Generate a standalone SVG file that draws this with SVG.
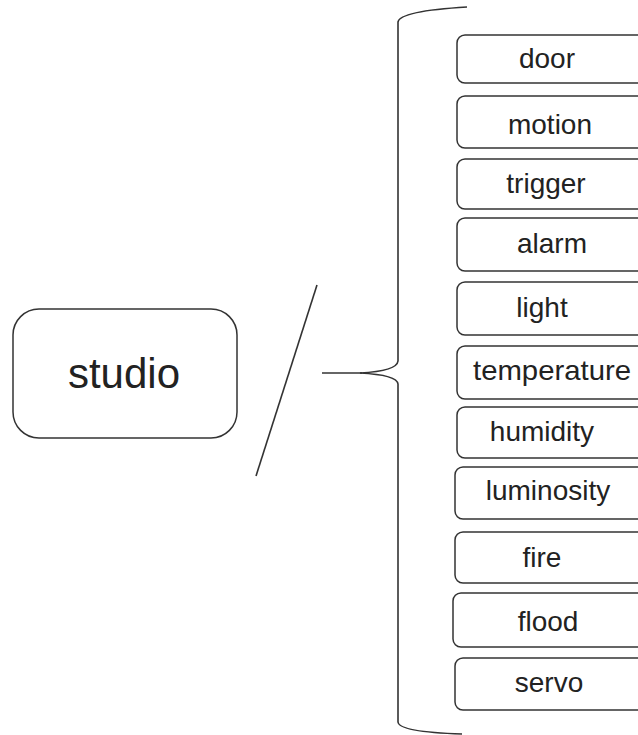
<svg xmlns="http://www.w3.org/2000/svg" width="638" height="735" viewBox="0 0 638 735">
<style>
.box{fill:#fff;stroke:#333;stroke-width:1.5}
.lbl{font-family:"Liberation Sans",Arial,sans-serif;font-size:28px;fill:#222;text-anchor:middle}
.ln{fill:none;stroke:#333;stroke-width:1.6}
</style>
<rect width="638" height="735" fill="#fff"/>
<g id="connectors">
<path class="ln" d="M 317 285 L 256 476"/>
<path class="ln" d="M 322 373 L 362 373"/>
<path class="ln" d="M 467 7 Q 400 11 398 22 L 398 361 Q 397 371 360 373 Q 397 375 398 384 L 398 722 Q 399 732 462 734"/>
</g>
<g id="studio"><rect class="box" x="13" y="309" width="224" height="129" rx="26"/><text x="124" y="388" class="lbl" style="font-size:42px">studio</text></g>
<g id="door"><rect class="box" x="457" y="35" width="200" height="48" rx="8"/><text class="lbl" x="547" y="68">door</text></g>
<g id="motion"><rect class="box" x="457" y="96" width="200" height="52" rx="8"/><text class="lbl" x="550" y="134">motion</text></g>
<g id="trigger"><rect class="box" x="457" y="159" width="200" height="50" rx="8"/><text class="lbl" x="546" y="193">trigger</text></g>
<g id="alarm"><rect class="box" x="457" y="218" width="200" height="53" rx="8"/><text class="lbl" x="552" y="253">alarm</text></g>
<g id="light"><rect class="box" x="457" y="282" width="200" height="53" rx="8"/><text class="lbl" x="542" y="317">light</text></g>
<g id="temperature"><rect class="box" x="457" y="346" width="200" height="53" rx="8"/><text class="lbl" x="552" y="380" textLength="158" lengthAdjust="spacingAndGlyphs">temperature</text></g>
<g id="humidity"><rect class="box" x="457" y="407" width="200" height="51" rx="8"/><text class="lbl" x="542" y="441">humidity</text></g>
<g id="luminosity"><rect class="box" x="455" y="467" width="200" height="52" rx="8"/><text class="lbl" x="548" y="500">luminosity</text></g>
<g id="fire"><rect class="box" x="455" y="532" width="200" height="51" rx="8"/><text class="lbl" x="542" y="567">fire</text></g>
<g id="flood"><rect class="box" x="453" y="593" width="200" height="54" rx="8"/><text class="lbl" x="548" y="631">flood</text></g>
<g id="servo"><rect class="box" x="455" y="658" width="200" height="52" rx="8"/><text class="lbl" x="549" y="692">servo</text></g>
</svg>
